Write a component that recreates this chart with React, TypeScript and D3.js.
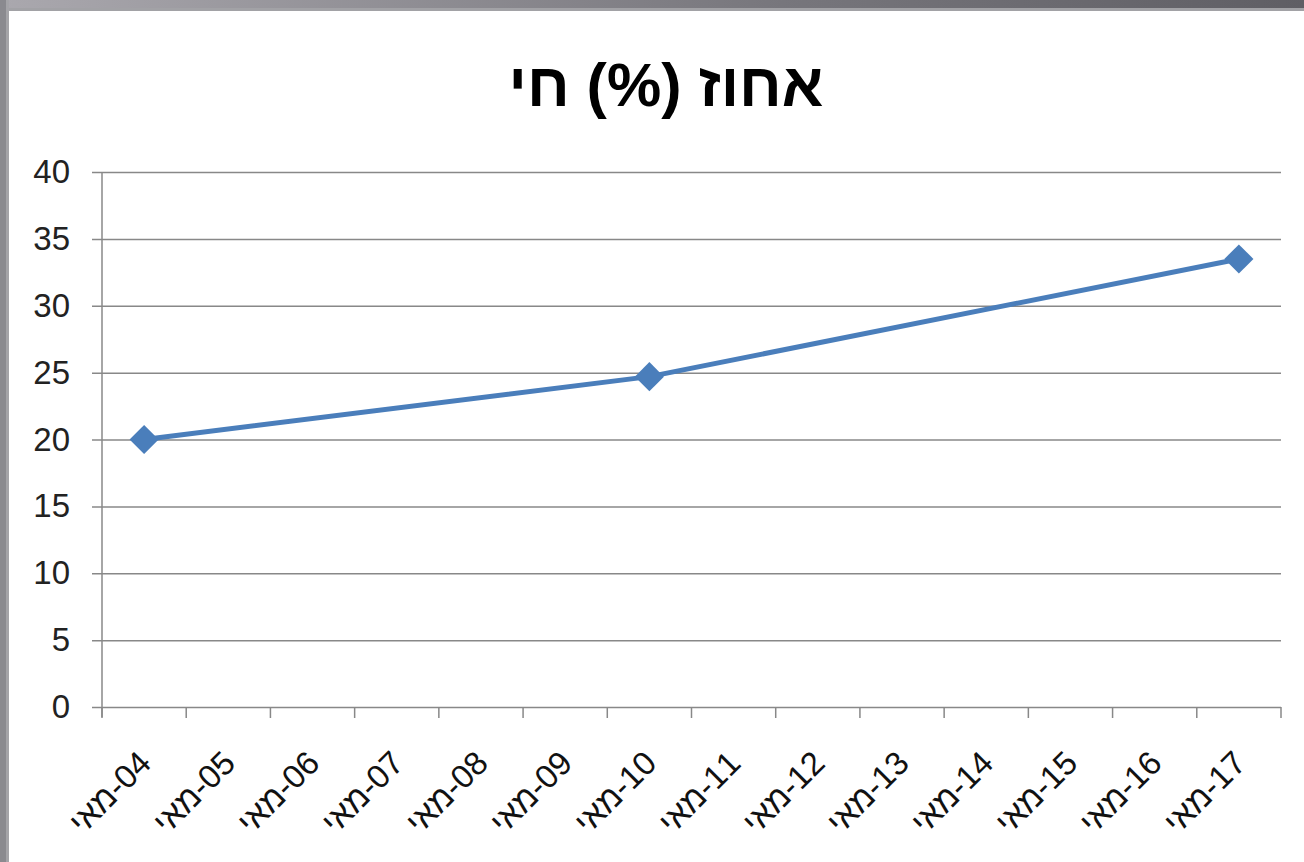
import { useEffect, useRef } from 'react'
import * as d3 from 'd3'

const title = 'אחוז (%) חי'
const month = 'מאי'
const years = ['04', '05', '06', '07', '08', '09', '10', '11', '12', '13', '14', '15', '16', '17']
// only three measurements; other months empty
const values: (number | null)[] = [20, null, null, null, null, null, 24.7, null, null, null, null, null, null, 33.5]
const yTicks = [0, 5, 10, 15, 20, 25, 30, 35, 40]

export default function App() {
  const ref = useRef<SVGSVGElement>(null)

  useEffect(() => {
    if (!ref.current) return
    const width = 1304, height = 862
    const margin = { top: 172, right: 23, bottom: 155, left: 102 }
    const font = '"Liberation Sans", Arial, sans-serif'

    const svg = d3.select(ref.current)
    svg.selectAll('*').remove()
    svg.attr('width', width).attr('height', height)

    // frame
    const defs = svg.append('defs')
    const grad = defs.append('linearGradient').attr('id', 'topband')
    grad.append('stop').attr('offset', '0%').attr('stop-color', '#aaa8ae')
    grad.append('stop').attr('offset', '60%').attr('stop-color', '#77767c')
    grad.append('stop').attr('offset', '100%').attr('stop-color', '#5f5e64')

    svg.append('rect').attr('width', width).attr('height', height).attr('fill', '#fff')
    svg.append('rect').attr('x', 0).attr('y', 0).attr('width', width).attr('height', 11).attr('fill', '#a2a2a6')
    svg.append('rect').attr('x', 0).attr('y', 0).attr('width', width).attr('height', 8).attr('fill', 'url(#topband)')
    svg.append('rect').attr('x', 0).attr('y', 0).attr('width', 9).attr('height', height).attr('fill', '#a4a4a8')
    svg.append('rect').attr('x', 0).attr('y', 0).attr('width', 6).attr('height', height).attr('fill', '#8a8a8f')

    const x = d3.scaleBand<string>()
      .domain(years)
      .range([margin.left, width - margin.right])
      .padding(0)

    const y = d3.scaleLinear()
      .domain([0, 40])
      .range([height - margin.bottom, margin.top])

    // title
    svg.append('text')
      .attr('x', 666)
      .attr('y', 106)
      .attr('text-anchor', 'middle')
      .style('font-family', font)
      .style('font-weight', 'bold')
      .style('font-size', '61px')
      .attr('fill', '#000')
      .text(title)

    // grid + y axis
    const yAxis = d3.axisLeft(y).tickValues(yTicks).tickSize(-(width - margin.right - margin.left) - 10)
    const gy = svg.append('g')
      .attr('transform', `translate(${margin.left - 10},0)`)
      .call(yAxis)
    gy.select('.domain').remove()
    gy.selectAll('.tick line').attr('stroke', '#888').attr('stroke-width', 1.5)
    gy.selectAll('.tick text')
      .attr('x', -22)
      .style('font-family', font)
      .style('font-size', '33px')
      .attr('fill', '#222')

    svg.append('line')
      .attr('x1', margin.left).attr('x2', margin.left)
      .attr('y1', margin.top).attr('y2', height - margin.bottom + 10)
      .attr('stroke', '#888').attr('stroke-width', 1.5)

    // x axis: ticks on band edges
    const edges = years.map(d => x(d) as number).concat([width - margin.right])
    svg.append('g')
      .selectAll('line')
      .data(edges)
      .join('line')
      .attr('x1', d => d).attr('x2', d => d)
      .attr('y1', height - margin.bottom).attr('y2', height - margin.bottom + 11)
      .attr('stroke', '#888').attr('stroke-width', 1.5)

    svg.append('g')
      .selectAll('text')
      .data(years)
      .join('text')
      .attr('transform', d => `translate(${(x(d) as number) + x.bandwidth() / 2 + 9},${height - margin.bottom + 58}) rotate(-45)`)
      .attr('text-anchor', 'end')
      .style('font-family', font)
      .style('font-size', '33px')
      .attr('fill', '#111')
      .text(d => `${month}\u200E-${d}`)

    // series
    const pts = years
      .map((d, i) => ({ cat: d, value: values[i] }))
      .filter(d => d.value !== null) as { cat: string, value: number }[]

    const cx = (d: { cat: string }) => (x(d.cat) as number) + x.bandwidth() / 2

    svg.append('path')
      .datum(pts)
      .attr('fill', 'none')
      .attr('stroke', '#4a7ebb')
      .attr('stroke-width', 5)
      .attr('stroke-linejoin', 'round')
      .attr('d', d3.line<{ cat: string, value: number }>()
        .x(cx)
        .y(d => y(d.value)))

    svg.append('g')
      .selectAll('path')
      .data(pts)
      .join('path')
      .attr('transform', d => `translate(${cx(d)},${y(d.value)})`)
      .attr('d', d3.symbol(d3.symbolDiamond2, 540)())
      .attr('fill', '#4a7ebb')
  }, [])

  return (
    <svg ref={ref} style={{ position: 'absolute', left: 0, top: 0, display: 'block' }}></svg>
  )
}
